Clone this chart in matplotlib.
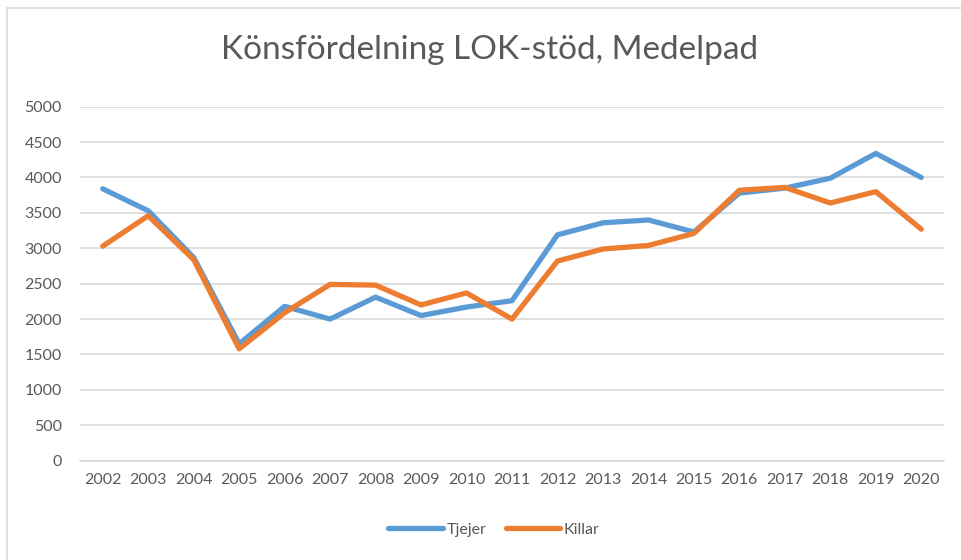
import matplotlib.pyplot as plt
from matplotlib.patches import Rectangle

years = [str(y) for y in range(2002, 2021)]
tjejer = [3840, 3530, 2870, 1650, 2180, 2000, 2310, 2050, 2170, 2260,
          3190, 3360, 3400, 3230, 3780, 3850, 3990, 4340, 4000]
killar = [3030, 3460, 2840, 1580, 2090, 2490, 2480, 2200, 2370, 2000,
          2820, 2990, 3040, 3210, 3820, 3860, 3640, 3800, 3270]

plt.rcParams['font.family'] = ['Lato', 'DejaVu Sans']
txt = '#595959'

fig = plt.figure(figsize=(9.62, 5.6), dpi=100)
W, H = 962, 560
# outer chart border
fig.patches.append(Rectangle((7 / W, 0 - 0.01), 1.1, 1 - 8 / H + 0.01,
                             transform=fig.transFigure, fill=False,
                             edgecolor='#D9D9D9', lw=1.2))

ax = fig.add_axes([80 / W, 1 - 460.7 / H, 864 / W, (460.7 - 106.7) / H])
x = range(len(years))
ax.plot(x, tjejer, color='#5B9BD5', lw=3.8, solid_capstyle='round',
        solid_joinstyle='round', label='Tjejer')
ax.plot(x, killar, color='#ED7D31', lw=3.8, solid_capstyle='round',
        solid_joinstyle='round', label='Killar')

ax.set_xlim(-0.5, len(years) - 0.5)
ax.set_ylim(0, 5000)
ax.set_yticks(range(0, 5001, 500))
ax.set_xticks(list(x))
ax.set_xticklabels(years)
ax.grid(axis='y', color='#D9D9D9', lw=1.2)
ax.set_axisbelow(True)
for s in ax.spines.values():
    s.set_visible(False)
ax.spines['bottom'].set_visible(True)
ax.spines['bottom'].set_color('#D9D9D9')
ax.spines['bottom'].set_linewidth(1.2)
ax.tick_params(length=0, colors=txt, labelsize=11.5)
ax.tick_params(axis='y', pad=13)
ax.tick_params(axis='x', pad=9)

fig.text(490 / W, 1 - 50 / H, 'Könsfördelning LOK-stöd, Medelpad',
         ha='center', va='center', fontsize=24, color=txt)

ax.legend(loc='center', bbox_to_anchor=(494 / W, 1 - 530 / H),
          bbox_transform=fig.transFigure, ncol=2, frameon=False,
          fontsize=11.5, labelcolor=txt, handlelength=3.4,
          handletextpad=0.25, columnspacing=1.2)

fig.savefig('out.png', dpi=100, facecolor='white')
